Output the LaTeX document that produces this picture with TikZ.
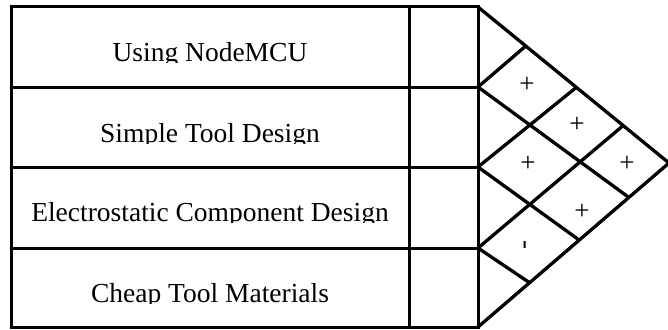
\documentclass[tikz,border=0pt]{standalone}
\usepackage{fontspec}
\setmainfont{Liberation Serif}
\usetikzlibrary{calc}
\begin{document}
\begin{tikzpicture}[x=1pt,y=-1pt,
  gridline/.style={line width=3pt},
  diag/.style={line width=3.3pt},
  lbl/.style={font=\fontsize{27.5}{30}\selectfont, inner sep=0pt, anchor=base},
  sym/.style={font=\fontsize{27}{29}\selectfont, inner sep=0pt}]
\useasboundingbox (0,0) rectangle (668,329);
% table
\coordinate (TL) at (11,7);
\coordinate (BR) at (478,327);
\draw[gridline] (TL) rectangle (BR);
\draw[gridline] (409,7) -- (409,327);
\foreach \y in {87,167,248} \draw[gridline] (11,\y) -- (478,\y);
% labels (clipped at baseline as in the reference)
\begin{scope}\clip (11,7) rectangle (409,62);
\node[lbl] (l1) at (210,61) {Using NodeMCU};\end{scope}
\begin{scope}\clip (11,87) rectangle (409,143);
\node[lbl] (l2) at (210,142) {Simple Tool Design};\end{scope}
\begin{scope}\clip (11,167) rectangle (409,222);
\node[lbl] (l3) at (210,221) {Electrostatic Component Design};\end{scope}
\begin{scope}\clip (11,248) rectangle (409,303);
\node[lbl] (l4) at (210,302) {Cheap Tool Materials};\end{scope}
% roof
\coordinate (T0) at (478,7);
\coordinate (B0) at (478,327);
\coordinate (A) at (669,163);
\coordinate (R1) at (478,87);
\coordinate (R2) at (478,167);
\coordinate (R3) at (478,248);
\coordinate (U1) at ($(T0)!0.25!(A)$);
\coordinate (U2) at ($(T0)!0.515!(A)$);
\coordinate (U3) at ($(T0)!0.76!(A)$);
\coordinate (L3) at ($(B0)!0.27!(A)$);
\coordinate (L2) at ($(B0)!0.53!(A)$);
\coordinate (L1) at ($(B0)!0.79!(A)$);
\draw[diag, line join=miter] (T0) -- (A) -- (B0);
\draw[diag] (R1) -- (U1) (R2) -- (U2) (R3) -- (U3);
\draw[diag] (R1) -- (L1) (R2) -- (L2) (R3) -- (L3);
% correlation symbols
\node[sym] (c12) at (527,85) {+};
\node[sym] (c13) at (577,125) {+};
\node[sym] (c23) at (528,164) {+};
\node[sym] (c14) at (627,164) {+};
\node[sym] (c24) at (582,212) {+};
\node[sym, rotate=90] (c34) at (528,245) {-};
\end{tikzpicture}
\end{document}
